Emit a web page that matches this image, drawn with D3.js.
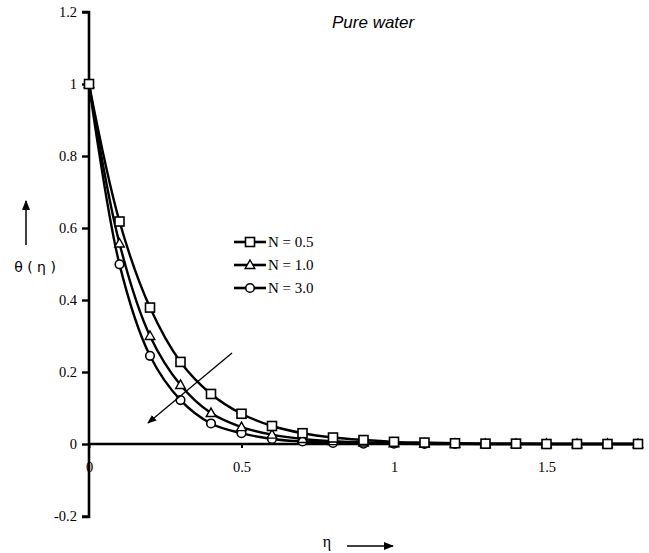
<!DOCTYPE html>
<html><head><meta charset="utf-8">
<script src="https://cdn.jsdelivr.net/npm/d3@7"></script>
<style>body{margin:0;background:#fff}svg{display:block}</style>
</head><body>
<svg id="c" width="649" height="553"></svg>
<script>
const eta = [0,0.1,0.2,0.3,0.4,0.5,0.6,0.7,0.8,0.9,1.0,1.1,1.2,1.3,1.4,1.5,1.6,1.7,1.8];
const thetaN05 = [1,0.618,0.379,0.228,0.139,0.084,0.050,0.030,0.018,0.011,0.006,0.004,0.002,0.001,0.001,0,0,0,0];
const thetaN10 = [1,0.557,0.300,0.164,0.086,0.047,0.026,0.014,0.008,0.004,0.002,0.001,0.001,0,0,0,0,0,0];
const thetaN30 = [1,0.499,0.245,0.122,0.057,0.030,0.014,0.007,0.003,0.001,0.001,0,0,0,0,0,0,0,0];
const seriesNames = ["N = 0.5","N = 1.0","N = 3.0"];
const seriesMarkers = ["square","triangle","circle"];
const xTicks = [0,0.5,1,1.5];
const yTicks = [-0.2,0,0.2,0.4,0.6,0.8,1,1.2];

const svg = d3.select("#c");
const x = d3.scaleLinear().domain([0,1.8]).range([89,638]);
const y = d3.scaleLinear().domain([-0.2,1.2]).range([516,12]);
const serif = "'Liberation Serif','Times New Roman',serif";

// y axis
const yAxis = d3.axisLeft(y).tickValues(yTicks).tickSize(7).tickPadding(5)
  .tickFormat(d => d===0?"0":String(+d.toFixed(1)));
const gy = svg.append("g").attr("transform",`translate(${x(0)},0)`).call(yAxis);
gy.attr("font-family",null);
gy.select(".domain").attr("stroke-width",2.6).attr("d",`M-7,${y(1.2)}H0V${y(-0.2)+1}H-7`);
gy.selectAll(".tick line").attr("stroke-width",2.4);
gy.selectAll(".tick text").style("font-family",serif).style("font-size","14.5px").attr("fill","#000");

// x axis at y=0
const xAxis = d3.axisBottom(x).tickValues(xTicks).tickSize(4).tickPadding(14)
  .tickFormat(d => String(d));
const gx = svg.append("g").attr("transform",`translate(0,${y(0)})`).call(xAxis);
gx.attr("font-family",null);
gx.select(".domain").attr("stroke-width",2.6).attr("d",`M${x(0)},0H${x(1.8)+2}`);
gx.selectAll(".tick line").attr("stroke-width",2);
gx.selectAll(".tick text").style("font-family",serif).style("font-size","14.5px").attr("fill","#000");

// curves
const data = [thetaN05, thetaN10, thetaN30];
const line = d3.line().x((d,i)=>x(eta[i])).y(d=>y(d)).curve(d3.curveCatmullRom.alpha(0.5));
data.forEach(s => {
  svg.append("path").attr("d", line(s)).attr("fill","none").attr("stroke","#000").attr("stroke-width",2.4);
});

function marker(g, type, cx, cy) {
  if (type==="square") {
    g.append("rect").attr("x",cx-4.5).attr("y",cy-4.5).attr("width",9).attr("height",9)
      .attr("fill","#fff").attr("stroke","#000").attr("stroke-width",1.6);
  } else if (type==="triangle") {
    g.append("path").attr("d",`M${cx},${cy-5}L${cx+4.8},${cy+3.5}L${cx-4.8},${cy+3.5}Z`)
      .attr("fill","#fff").attr("stroke","#000").attr("stroke-width",1.4);
  } else {
    g.append("circle").attr("cx",cx).attr("cy",cy).attr("r",4.3)
      .attr("fill","#fff").attr("stroke","#000").attr("stroke-width",1.6);
  }
}
const mg = svg.append("g");
[2,1,0].forEach(k => {
  data[k].forEach((v,i) => marker(mg, seriesMarkers[k], x(eta[i]), y(v)));
});

// legend
const lg = svg.append("g");
seriesNames.forEach((n,k) => {
  const ly = 242 + k*23;
  lg.append("line").attr("x1",234).attr("x2",266).attr("y1",ly).attr("y2",ly)
    .attr("stroke","#000").attr("stroke-width",2.6);
  marker(lg, seriesMarkers[k], 250, ly);
  lg.append("text").attr("x",268).attr("y",ly+5).style("font-family",serif).style("font-size","15px")
    .text(n);
});

// arrow marker def
const defs = svg.append("defs");
defs.append("marker").attr("id","ah").attr("viewBox","0 0 10 10").attr("refX",9).attr("refY",5)
  .attr("markerWidth",7).attr("markerHeight",7).attr("orient","auto-start-reverse")
  .append("path").attr("d","M0,1L10,5L0,9Z").attr("fill","#000");

// diagonal arrow
svg.append("line").attr("x1",232).attr("y1",353).attr("x2",148).attr("y2",423)
  .attr("stroke","#000").attr("stroke-width",1.3).attr("marker-end","url(#ah)");

// y label and arrow
svg.append("text").attr("x",35).attr("y",272).attr("text-anchor","middle")
  .style("font-family","'DejaVu Sans',sans-serif").style("font-size","14px").text("θ ( η )");
svg.append("line").attr("x1",26).attr("y1",245).attr("x2",26).attr("y2",201)
  .attr("stroke","#000").attr("stroke-width",1.5).attr("marker-end","url(#ah)");

// x label and arrow
svg.append("text").attr("x",327).attr("y",547).attr("text-anchor","middle")
  .style("font-family",serif).style("font-size","16px").text("η");
svg.append("line").attr("x1",347).attr("y1",546).attr("x2",393).attr("y2",546)
  .attr("stroke","#000").attr("stroke-width",1.5).attr("marker-end","url(#ah)");

// title
svg.append("text").attr("x",332).attr("y",28).style("font-family","'Liberation Sans',Arial,sans-serif")
  .style("font-style","italic").style("font-size","17px").text("Pure water");
</script>
</body></html>
